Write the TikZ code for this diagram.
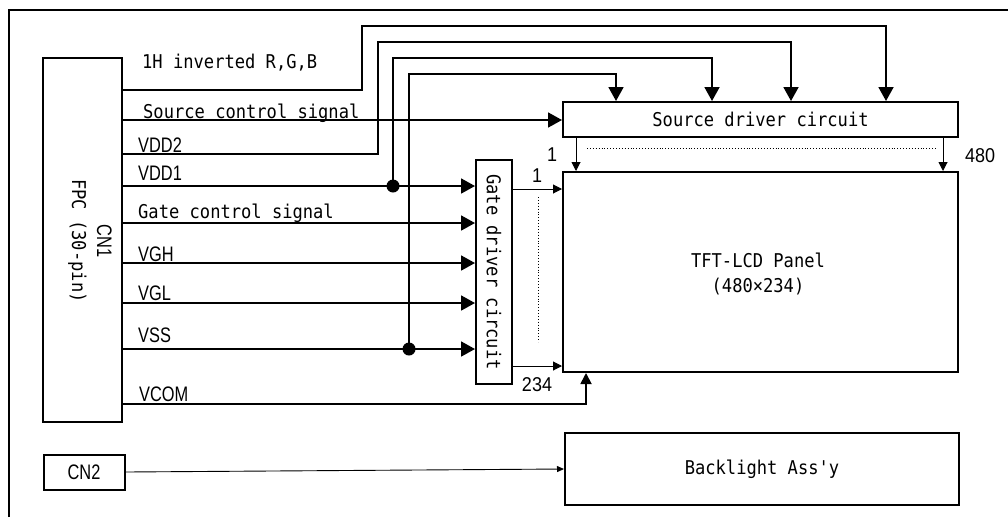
\documentclass[tikz,border=0pt]{standalone}
\usepackage{fontspec}
\setmainfont{DejaVu Sans Mono}
\newfontfamily\monof[FakeStretch=0.9]{DejaVu Sans Mono}
\newfontfamily\narrowf[FakeStretch=0.78]{Liberation Sans}
\newfontfamily\numf[FakeStretch=0.9]{Liberation Sans}
\usetikzlibrary{arrows.meta}
\begin{document}
\begin{tikzpicture}[x=1pt,y=-1pt,
  box/.style={draw, line width=2pt, inner sep=0pt},
  frameline/.style={line width=2.4pt},
  sig/.style={line width=1.8pt},
  sigarr/.style={sig, -{Triangle[length=14pt,width=15pt]}},
  midarr/.style={sig, -{Triangle[length=11pt,width=11pt]}},
  outarr/.style={line width=1pt, -{Triangle[length=9pt,width=9pt]}},
  thinarr/.style={line width=0.9pt, -{Triangle[length=7pt,width=6pt]}},
  dotline/.style={dotted, line width=0.9pt},
  mtxt/.style={font=\monof\fontsize{19}{22}\selectfont, inner sep=0pt},
  lbl/.style={mtxt, anchor=base west},
  nlbl/.style={font=\narrowf\fontsize{21}{23}\selectfont, inner sep=0pt, anchor=base west},
  ntxt/.style={font=\narrowf\fontsize{21}{23}\selectfont, inner sep=0pt},
  numtxt/.style={font=\numf\fontsize{20}{22}\selectfont, inner sep=0pt},
  jdot/.style={circle, fill, minimum size=13pt, inner sep=0pt}]
\useasboundingbox (0,0) rectangle (1008,517);
\fill[white] (0,0) rectangle (1008,517);
% frame
\draw[frameline] (9,517) -- (9,10) -- (1008,10);
% boxes
\node[box, minimum width=79pt, minimum height=364pt] (cn1) at (82.5,240) {};
\node[rotate=-90, align=center, mtxt] (cn1t) at (90,241) {{\narrowf\fontsize{21}{23}\selectfont CN1}\\[3pt]FPC (30-pin)};
\node[box, minimum width=395pt, minimum height=35pt, mtxt] (sd) at (760.5,119.5) {Source driver circuit};
\node[box, minimum width=395pt, minimum height=200pt] (pn) at (760.5,272) {};
\node[mtxt, align=center] (pnt) at (758,274) {TFT-LCD Panel\\[3pt](480×234)};
\node[box, minimum width=36pt, minimum height=224pt] (gd) at (494,272) {};
\node[mtxt, rotate=-90] (gdt) at (gd.center) {Gate driver circuit};
\node[box, minimum width=81pt, minimum height=35pt, ntxt] (cn2) at (84,472) {CN2};
\node[box, minimum width=394pt, minimum height=72pt, mtxt] (bl) at (762,469) {Backlight Ass'y};
% pins on CN1
\coordinate (p1) at (122,90);
\coordinate (p2) at (122,120);
\coordinate (p3) at (122,154);
\coordinate (p4) at (122,186);
\coordinate (p5) at (122,223);
\coordinate (p6) at (122,263);
\coordinate (p7) at (122,303);
\coordinate (p8) at (122,349);
\coordinate (p9) at (122,404);
% junction dots
\node[jdot] (d1) at (393,186) {};
\node[jdot] (d2) at (409,349) {};
% signal lines
\draw[sigarr] (p1) -- (362,90) -- (362,26) -- (886,26) -- (sd.north -| 886,0);
\draw[sigarr] (p2) -- (p2 -| sd.west);
\draw[sigarr] (p3) -- (378,154) -- (378,42) -- (791,42) -- (sd.north -| 791,0);
\draw[sigarr] (p4) -- (p4 -| gd.west);
\draw[sigarr] (d1.center) -- (393,58) -- (712,58) -- (sd.north -| 712,0);
\draw[sigarr] (p5) -- (p5 -| gd.west);
\draw[sigarr] (p6) -- (p6 -| gd.west);
\draw[sigarr] (p7) -- (p7 -| gd.west);
\draw[sigarr] (p8) -- (p8 -| gd.west);
\draw[sigarr] (d2.center) -- (409,74) -- (616,74) -- (sd.north -| 616,0);
\draw[midarr] (p9) -- (586,404) -- (pn.south -| 586,0);
% labels
\node[lbl] (l1) at (142,68) {1H inverted R,G,B};
\node[lbl] (l2) at (143,118) {Source control signal};
\node[nlbl] (l3) at (138,152) {VDD2};
\node[nlbl] (l4) at (138,180) {VDD1};
\node[lbl] (l5) at (138,218) {Gate control signal};
\node[nlbl] (l6) at (138,261) {VGH};
\node[nlbl] (l7) at (138,300) {VGL};
\node[nlbl] (l8) at (138,342) {VSS};
\node[nlbl] (l9) at (139,401) {VCOM};
% outputs of drivers
\draw[outarr] (sd.south -| 576,0) -- (pn.north -| 576,0);
\draw[outarr] (sd.south -| 943,0) -- (pn.north -| 943,0);
\draw[dotline] (587,148) -- (937,148);
\draw[outarr] (gd.east |- 0,189) -- (pn.west |- 0,189);
\draw[outarr] (gd.east |- 0,366) -- (pn.west |- 0,366);
\draw[dotline] (538,197) -- (538,342);
\node[numtxt] (n1a) at (552,155) {1};
\node[numtxt] (n480) at (980,156) {480};
\node[numtxt] (n1b) at (537,176) {1};
\node[numtxt] (n234) at (537,385) {234};
% backlight
\draw[thinarr] (cn2.east) -- (bl.west);
\end{tikzpicture}
\end{document}
